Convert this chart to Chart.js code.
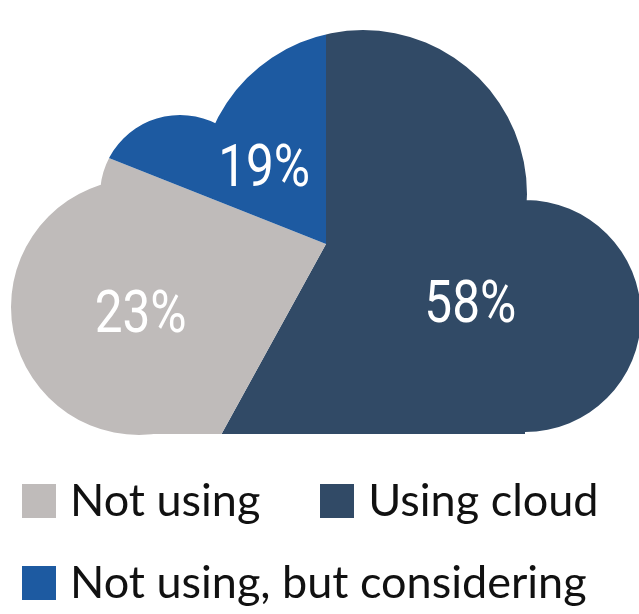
<!DOCTYPE html>
<html>
<head>
<meta charset="utf-8">
<script src="https://cdn.jsdelivr.net/npm/chart.js@4.4.0/dist/chart.umd.min.js"></script>
<style>
    html, body { margin: 0; padding: 0; background: #fff; }
    body { position: relative; width: 639px; height: 614px; overflow: hidden; }
    #cloud { position: absolute; left: -24px; top: -106px; }
    #legend {
        position: absolute; left: 22px; top: 476px; width: 617px;
        display: flex; flex-wrap: wrap; row-gap: 36px; column-gap: 60px;
        font-family: Lato, "Open Sans", sans-serif; font-size: 45px; color: #111;
    }
    #legend .item { display: flex; align-items: center; height: 46px; white-space: nowrap; }
    #legend .box { width: 34px; height: 34px; margin-right: 14px; margin-top: 4px; }
</style>
</head>
<body>
<canvas id="cloud" width="700" height="700"></canvas>
<div id="legend"></div>
<script>
    // slices, clockwise from 12 o'clock
    var labels = ['Using cloud', 'Not using', 'Not using, but considering'];
    var shares = [58, 23, 19];
    var colors = ['#314a66', '#bfbbba', '#1d5aa1'];
    // order the legend shows them in
    var legendOrder = ['Not using', 'Using cloud', 'Not using, but considering'];

    // cloud outline, relative to the pie centre
    var bumps = [
        {x: 37, y: -50, r: 164},
        {x: 199, y: 72, r: 116},
        {x: -187, y: 63, r: 128},
        {x: -146, y: -49, r: 80}
    ];

    var cloudClip = {
        id: 'cloudClip',
        beforeDatasetsDraw: function(chart) {
            var arc = chart.getDatasetMeta(0).data[0];
            var ctx = chart.ctx;
            ctx.save();
            ctx.beginPath();
            bumps.forEach(function(b) {
                ctx.moveTo(arc.x + b.x + b.r, arc.y + b.y);
                ctx.arc(arc.x + b.x, arc.y + b.y, b.r, 0, Math.PI * 2);
            });
            ctx.rect(arc.x - 187, arc.y - 50, 386, 240);
            ctx.clip();
        },
        afterDatasetsDraw: function(chart) {
            chart.ctx.restore();
        }
    };

    var sliceLabels = {
        id: 'sliceLabels',
        afterDraw: function(chart, args, opts) {
            var ctx = chart.ctx;
            chart.getDatasetMeta(0).data.forEach(function(arc, i) {
                var p = opts.place[i];
                var a = (arc.startAngle + arc.endAngle) / 2 + p.turn * Math.PI / 180;
                var x = arc.x + Math.cos(a) * p.dist;
                var y = arc.y + Math.sin(a) * p.dist;
                ctx.save();
                ctx.translate(x, y + 21);
                ctx.scale(0.84, 1);
                ctx.fillStyle = '#fff';
                ctx.font = '400 59px Roboto';
                ctx.textAlign = 'center';
                ctx.textBaseline = 'alphabetic';
                ctx.fillText(shares[i] + '%', 0, 0);
                ctx.restore();
            });
        }
    };

    new Chart(document.getElementById('cloud'), {
        type: 'pie',
        data: {
            labels: labels,
            datasets: [{
                data: shares,
                backgroundColor: colors,
                borderWidth: 0
            }]
        },
        options: {
            responsive: false,
            animation: false,
            devicePixelRatio: 1,
            layout: {padding: 0},
            plugins: {
                legend: {display: false},
                tooltip: {enabled: false},
                sliceLabels: {
                    place: [
                        {dist: 155, turn: 7},
                        {dist: 197, turn: 0},
                        {dist: 100, turn: -4}
                    ]
                }
            }
        },
        plugins: [cloudClip, sliceLabels]
    });

    var legend = document.getElementById('legend');
    legendOrder.forEach(function(name) {
        var i = labels.indexOf(name);
        var item = document.createElement('div');
        item.className = 'item';
        var box = document.createElement('span');
        box.className = 'box';
        box.style.background = colors[i];
        item.appendChild(box);
        item.appendChild(document.createTextNode(name));
        legend.appendChild(item);
    });
</script>
</body>
</html>
